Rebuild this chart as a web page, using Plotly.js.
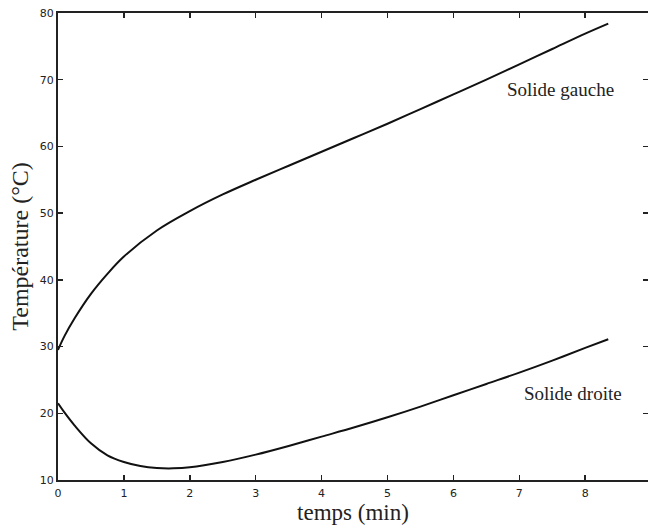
<!DOCTYPE html>
<html>
<head>
<meta charset="utf-8">
<script src="https://cdn.plot.ly/plotly-3.0.1.min.js"></script>
<style>html,body{margin:0;padding:0;background:#fff;}#chart{width:648px;height:525px;}</style>
</head>
<body>
<div id="chart"></div>
<script>
// Time (min)
const tempsGauche = [0, 0.1, 0.25, 0.5, 0.75, 1, 1.5, 2, 2.5, 3, 3.5, 4, 4.5, 5, 5.5, 6, 6.5, 7, 7.5, 8, 8.35];
const solideGauche = [29.5, 31.6, 34.2, 37.9, 40.9, 43.5, 47.4, 50.3, 52.8, 55.0, 57.1, 59.2, 61.3, 63.4, 65.6, 67.8, 70.0, 72.3, 74.6, 76.9, 78.4];

const tempsDroite = [0, 0.1, 0.25, 0.5, 0.75, 1, 1.25, 1.5, 1.75, 2, 2.5, 3, 3.5, 4, 4.5, 5, 5.5, 6, 6.5, 7, 7.5, 8, 8.35];
const solideDroite = [21.5, 20.1, 18.2, 15.5, 13.7, 12.7, 12.1, 11.8, 11.75, 11.9, 12.7, 13.8, 15.1, 16.5, 17.9, 19.4, 21.0, 22.7, 24.4, 26.1, 27.9, 29.8, 31.1];

const xTicks = [0, 1, 2, 3, 4, 5, 6, 7, 8];
const yTicks = [10, 20, 30, 40, 50, 60, 70, 80];
const labels = ["Solide gauche", "Solide droite"];
const labelPos = [[7.62, 68.5], [7.81, 23.0]];

const serif = "Liberation Serif, Times New Roman, serif";
const sans = "DejaVu Sans, sans-serif";

const traces = [
  {x: tempsGauche, y: solideGauche, mode: "lines", line: {color: "#111", width: 2, shape: "spline", smoothing: 1}, hoverinfo: "skip"},
  {x: tempsDroite, y: solideDroite, mode: "lines", line: {color: "#111", width: 2, shape: "spline", smoothing: 1}, hoverinfo: "skip"}
];

const axisCommon = {
  showgrid: false, zeroline: false, showline: true, linecolor: "#222", linewidth: 2,
  mirror: "ticks", ticks: "inside", ticklen: 5, tickwidth: 1.5, tickcolor: "#222",
  tickfont: {family: sans, size: 11, color: "#222"}
};

const layout = {
  width: 648, height: 525,
  margin: {l: 58, r: 0, t: 13, b: 45},
  paper_bgcolor: "#fff", plot_bgcolor: "#fff",
  showlegend: false,
  xaxis: Object.assign({}, axisCommon, {
    range: [0, 8.953], tickvals: xTicks, ticktext: xTicks.map(String), ticklabelstandoff: 2,
    title: {text: "temps (min)", font: {family: serif, size: 23, color: "#222"}, standoff: 3}
  }),
  yaxis: Object.assign({}, axisCommon, {
    range: [10, 80], tickvals: yTicks, ticktext: yTicks.map(String),
    title: {text: "Température (°C)", font: {family: serif, size: 24, color: "#222"}, standoff: 4}
  }),
  annotations: labels.map((t, i) => ({
    x: labelPos[i][0], y: labelPos[i][1], xref: "x", yref: "y", text: t, showarrow: false,
    font: {family: serif, size: 19, color: "#222"}
  }))
};

Plotly.newPlot("chart", traces, layout, {displayModeBar: false, staticPlot: true});
</script>
</body>
</html>
